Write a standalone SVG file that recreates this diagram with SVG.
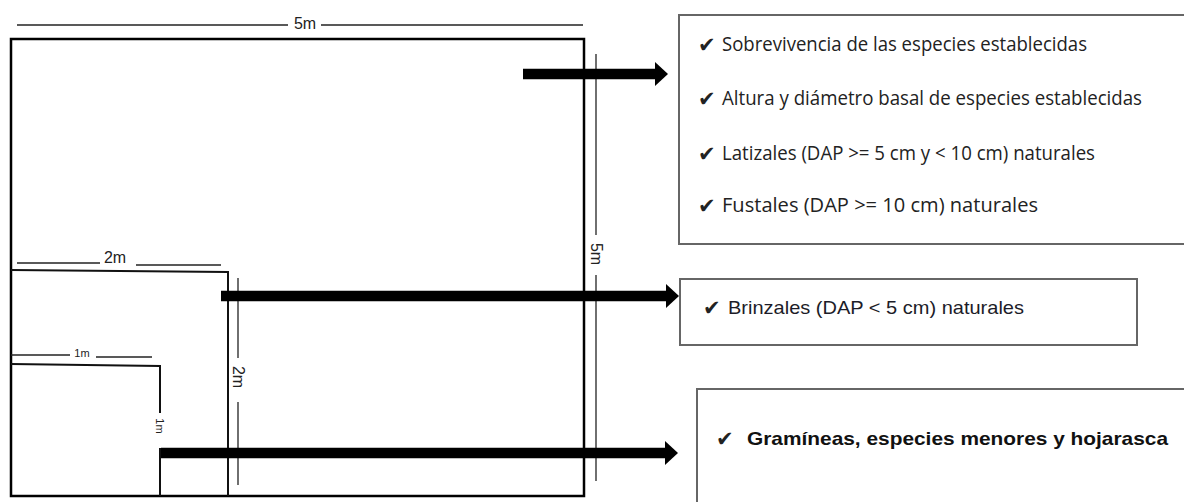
<svg xmlns="http://www.w3.org/2000/svg" width="1184" height="502" viewBox="0 0 1184 502">
<style>
.plot{fill:none;stroke:#000;stroke-width:2.5}
.side{fill:none;stroke:#111;stroke-width:2}
.dim{fill:none;stroke:#222;stroke-width:1.3}
.dl{font-family:"Liberation Sans",Arial,sans-serif;fill:#222}
.box{fill:#fff;stroke:#666;stroke-width:2}
.t1{font-family:"Open Sans","Noto Sans",sans-serif;font-size:19.5px;fill:#222}
.t2{font-family:"Liberation Sans",Arial,sans-serif;font-size:19px;fill:#1c1c28}
.t3{font-family:"Liberation Sans",Arial,sans-serif;font-size:19px;font-weight:bold;fill:#111}
.ck{font-family:"DejaVu Sans",sans-serif;fill:#222;font-size:21px}
.arr{stroke:#000;stroke-width:10.5;marker-end:url(#ah)}
</style>
<defs>
<marker id="ah" markerUnits="userSpaceOnUse" markerWidth="14" markerHeight="24" viewBox="0 0 14 24" refX="1" refY="12" orient="auto">
<path d="M0,0 L13,12 L0,24 Z" fill="#000"/>
</marker>
</defs>
<rect width="1184" height="502" fill="#fff"/>

<g id="plot-5m">
<rect class="plot" x="11" y="39" width="573" height="457"/>
<line class="dim" x1="17" y1="25" x2="288" y2="25"/>
<text class="dl" x="305" y="29" font-size="16" text-anchor="middle">5m</text>
<line class="dim" x1="321" y1="25" x2="583" y2="25"/>
<line class="dim" x1="596" y1="54" x2="596" y2="235"/>
<text class="dl" font-size="16" text-anchor="middle" transform="translate(591,254) rotate(90)">5m</text>
<line class="dim" x1="596" y1="275" x2="596" y2="481"/>
</g>

<g id="plot-2m">
<polyline class="side" points="11,270 228,272 228,496"/>
<line class="dim" x1="17" y1="263" x2="100" y2="263"/>
<text class="dl" x="115" y="263" font-size="16" text-anchor="middle">2m</text>
<line class="dim" x1="136" y1="265" x2="221" y2="265"/>
<line class="dim" x1="238" y1="278" x2="238" y2="358"/>
<text class="dl" font-size="16" text-anchor="middle" transform="translate(233,377) rotate(90)">2m</text>
<line class="dim" x1="238" y1="402" x2="238" y2="485"/>
</g>

<g id="plot-1m">
<polyline class="side" points="11,364 160,366 160,413"/>
<line class="side" x1="160" y1="448" x2="160" y2="496"/>
<line class="dim" x1="11" y1="355" x2="70" y2="355"/>
<text class="dl" x="82" y="357" font-size="11" text-anchor="middle">1m</text>
<line class="dim" x1="96" y1="357" x2="152" y2="357"/>
<text class="dl" font-size="11" text-anchor="middle" transform="translate(156,426) rotate(90)">1m</text>
</g>

<g id="box-5m">
<rect class="box" x="679" y="15" width="520" height="229"/>
<text class="ck" x="698" y="52">✔</text>
<text class="t1" x="722" y="51" textLength="365" lengthAdjust="spacingAndGlyphs">Sobrevivencia  de las especies establecidas</text>
<text class="ck" x="698" y="106">✔</text>
<text class="t1" x="722" y="105" textLength="420" lengthAdjust="spacingAndGlyphs">Altura y diámetro  basal de especies establecidas</text>
<text class="ck" x="698" y="161">✔</text>
<text class="t1" x="722" y="160" textLength="373" lengthAdjust="spacingAndGlyphs">Latizales (DAP &gt;= 5  cm y &lt; 10 cm)  naturales</text>
<text class="ck" x="698" y="213">✔</text>
<text class="t1" x="722" y="212" textLength="316" lengthAdjust="spacingAndGlyphs">Fustales (DAP &gt;= 10 cm) naturales</text>
</g>

<g id="box-2m">
<rect class="box" x="680" y="279" width="457" height="66" stroke="#555" stroke-width="1.6"/>
<text class="ck" x="703" y="315">✔</text>
<text class="t2" x="728" y="314" textLength="296" lengthAdjust="spacingAndGlyphs">Brinzales (DAP &lt; 5 cm) naturales</text>
</g>

<g id="box-1m">
<rect class="box" x="697" y="389" width="510" height="130" stroke="#777" stroke-width="1.6"/>
<text class="ck" x="716" y="446" font-size="23" fill="#111">✔</text>
<text class="t3" x="747" y="445" textLength="421" lengthAdjust="spacingAndGlyphs">Gramíneas, especies menores y hojarasca</text>
</g>

<g id="connectors">
<line class="arr" x1="523" y1="74" x2="656" y2="74"/>
<line class="arr" x1="221" y1="296" x2="667" y2="296"/>
<line class="arr" x1="161" y1="453" x2="666" y2="453"/>
</g>
</svg>
